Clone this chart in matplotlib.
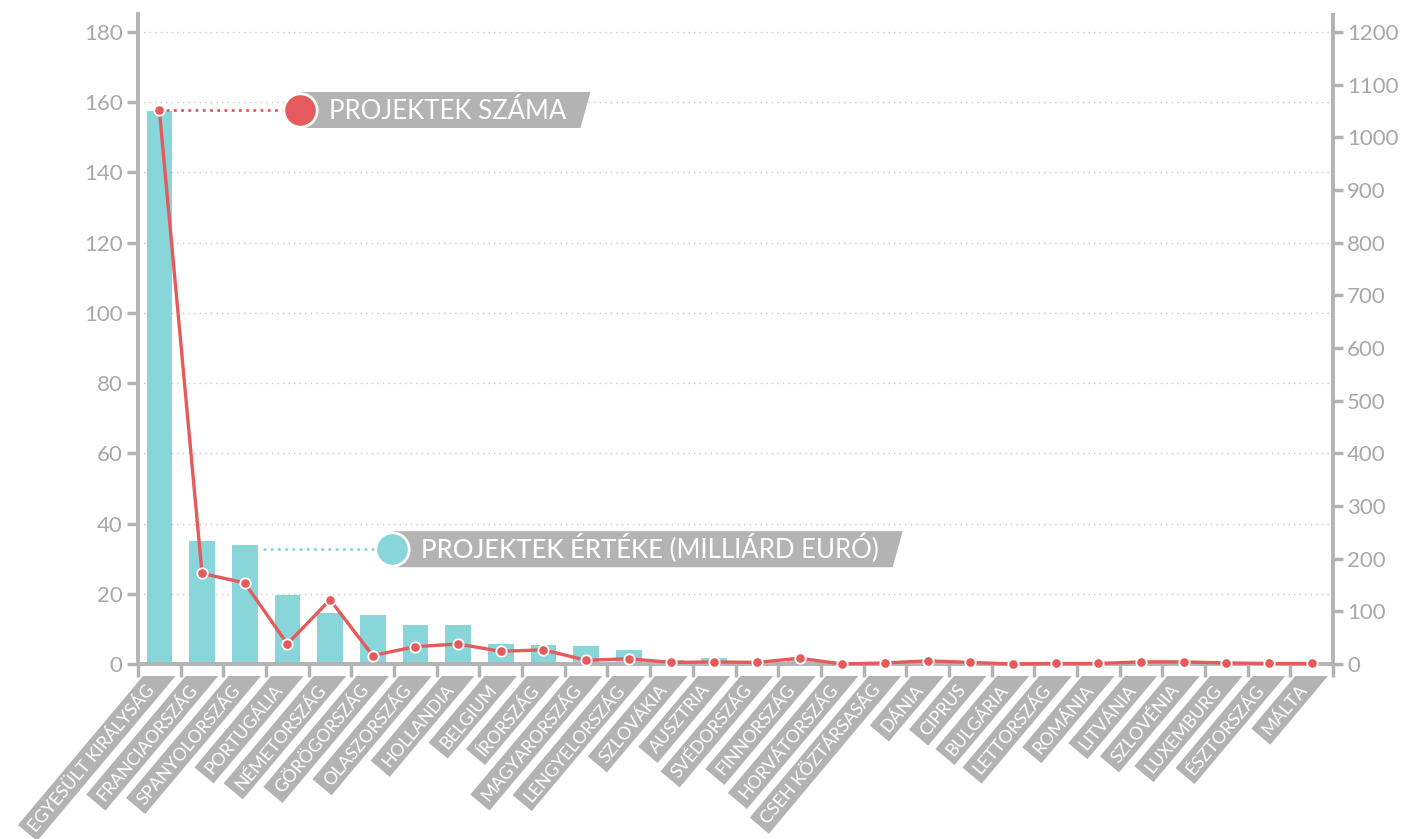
from __future__ import annotations

import numpy as np
import matplotlib

matplotlib.use("Agg")
import matplotlib.pyplot as plt
from matplotlib.font_manager import FontProperties
from matplotlib.patches import Polygon
from matplotlib.transforms import IdentityTransform

plt.rcParams["font.family"] = ["Lato", "DejaVu Sans"]

# Országok (vízszintes tengely)
countries = [
    "EGYESÜLT KIRÁLYSÁG", "FRANCIAORSZÁG", "SPANYOLORSZÁG", "PORTUGÁLIA",
    "NÉMETORSZÁG", "GÖRÖGORSZÁG", "OLASZORSZÁG", "HOLLANDIA", "BELGIUM",
    "ÍRORSZÁG", "MAGYARORSZÁG", "LENGYELORSZÁG", "SZLOVÁKIA", "AUSZTRIA",
    "SVÉDORSZÁG", "FINNORSZÁG", "HORVÁTORSZÁG", "CSEH KÖZTÁRSASÁG", "DÁNIA",
    "CIPRUS", "BULGÁRIA", "LETTORSZÁG", "ROMÁNIA", "LITVÁNIA", "SZLOVÉNIA",
    "LUXEMBURG", "ÉSZTORSZÁG", "MÁLTA",
]

# Projektek értéke (milliárd euró) - bal tengely
project_value = [
    157.5, 35.1, 33.9, 19.7, 14.5, 13.9, 11.2, 11.2, 5.8, 5.5, 5.2, 4.0,
    1.0, 1.6, 0.8, 1.2, 0.5, 0.4, 0.8, 0.6, 0.3, 0.2, 0.3, 0.4, 0.3, 0.3,
    0.1, 0.1,
]

# Projektek száma - jobb tengely
project_count = [
    1052, 172, 154, 38, 122, 16, 33, 38, 24, 27, 7, 10,
    3, 4, 3, 11, 0, 2, 6, 3, 0, 1, 1, 4, 4, 2, 1, 1,
]

left_ticks = list(range(0, 181, 20))
right_ticks = list(range(0, 1201, 100))

RED = "#e55a5a"
CYAN = "#88d5da"
GRAY = "#b3b3b3"
TICK_TEXT = "#a8a8a8"


def legend_tag(ax, fig, renderer, x, y, color, parts):
    """Kör + szürke, jobb oldalon ferde címke (a pont pixel-koordinátáiból)."""
    cx, cy = ax.transData.transform((x, y))
    ax.plot([x], [y], "o", ms=24, mfc=color, mec="white", mew=2,
            clip_on=False, zorder=7)

    size = 18.5
    cap = 0.72 * size * fig.dpi / 72
    tx = cx + 29
    for text, weight in parts:
        t = ax.text(tx, cy - cap / 2, text, color="white", fontsize=size,
                    fontweight=weight, ha="left", va="baseline",
                    transform=IdentityTransform(), zorder=8)
        tx = t.get_window_extent(renderer).x1

    half = 18
    box = Polygon(
        [(cx, cy + half), (tx + 24, cy + half),
         (tx + 14, cy - half), (cx, cy - half)],
        closed=True, facecolor=GRAY, edgecolor="none",
        transform=IdentityTransform(), zorder=6, clip_on=False,
    )
    ax.add_patch(box)


def main() -> None:
    x = np.arange(len(countries))

    fig = plt.figure(figsize=(14.23, 8.39), dpi=100)
    W, H = 1423, 839
    left, right, bottom, top = 138, 1333, 664, 14.5
    ax = fig.add_axes([left / W, (H - bottom) / H,
                       (right - left) / W, (bottom - top) / H])
    ax2 = ax.twinx()

    top_left = 185
    ax.set_xlim(-0.5, len(countries) - 0.5)
    ax.set_ylim(0, top_left)
    ax2.set_ylim(0, 1200 * top_left / 180)

    # Oszlopok: projektek értéke
    ax.bar(x, project_value, width=0.6, color=CYAN, zorder=2)

    # Vonal: projektek száma
    ax2.plot(x, project_count, color=RED, lw=2.4, marker="o", ms=7.5,
             mfc=RED, mec="white", mew=1.3, zorder=5, clip_on=False)

    # Tengelyek
    ax.set_yticks(left_ticks)
    ax2.set_yticks(right_ticks)
    ax.set_xticks(np.arange(-0.5, len(countries), 1.0))
    ax.set_xticklabels([])
    ax.tick_params(axis="y", direction="out", length=8, width=2.5,
                   color=GRAY, labelcolor=TICK_TEXT, labelsize=16, pad=3)
    ax2.tick_params(axis="y", direction="out", length=7, width=2.5,
                    color=GRAY, labelcolor=TICK_TEXT, labelsize=16, pad=3)
    ax.tick_params(axis="x", direction="out", length=9, width=2.5, color=GRAY)

    for name, spine in ax.spines.items():
        spine.set_color(GRAY)
        spine.set_linewidth(2.8)
    ax.spines["top"].set_visible(False)
    ax.spines["right"].set_visible(False)
    for name in ("top", "left", "bottom"):
        ax2.spines[name].set_visible(False)
    ax2.spines["right"].set_color(GRAY)
    ax2.spines["right"].set_linewidth(2.8)

    ax.set_axisbelow(True)
    ax.yaxis.grid(True, color="#c9c9c9", linestyle=(0, (1, 3)), lw=1)

    fig.canvas.draw()
    renderer = fig.canvas.get_renderer()

    # Ország-címkék ferde szürke sávokban
    angle = np.deg2rad(50)
    u = np.array([-np.cos(angle), -np.sin(angle)])
    n = np.array([np.sin(angle), -np.cos(angle)])
    half_t = 12.5
    label_size = 12.8
    prop = FontProperties(family=["Lato", "DejaVu Sans"], size=label_size)
    cap = 0.72 * label_size * fig.dpi / 72
    y0 = ax.transData.transform((0, 0))[1]
    ycut = y0 - 12
    for k, name in enumerate(countries):
        cx = ax.transData.transform((k, 0))[0]
        p0 = np.array([cx, ycut])
        w, _, _ = renderer.get_text_width_height_descent(name, prop, ismath=False)
        d0 = 13
        length = d0 + w + 6
        end = p0 + length * u
        band = Polygon(
            [(cx - half_t / np.sin(angle), ycut),
             (cx + half_t / np.sin(angle), ycut),
             tuple(end + half_t * n), tuple(end - half_t * n)],
            closed=True, facecolor=GRAY, edgecolor="none",
            transform=IdentityTransform(), clip_on=False, zorder=3,
        )
        ax.add_patch(band)
        anchor = p0 + d0 * u + (cap / 2) * n
        ax.text(anchor[0], anchor[1], name, fontproperties=prop, color="white",
                rotation=50, rotation_mode="anchor", ha="right", va="baseline",
                transform=IdentityTransform(), zorder=4)

    # Jelmagyarázat-címkék
    ax2.plot([0, 3.3], [project_count[0]] * 2, color=RED, lw=2,
             linestyle=(0, (1, 1.6)), zorder=4)
    legend_tag(ax2, fig, renderer, 3.3, project_count[0], RED,
               [("PROJEKTEK SZÁMA", "normal")])

    y_val = project_value[2] * 1200 / 180 - 8
    ax2.plot([2.42, 5.45], [y_val] * 2, color=CYAN, lw=2,
             linestyle=(0, (1, 1.6)), zorder=4)
    legend_tag(ax2, fig, renderer, 5.45, y_val, CYAN,
               [("PROJEKTEK ÉRTÉKE", "medium"), (" (MILLIÁRD EURÓ)", "normal")])

    fig.savefig("out.png", dpi=100)


if __name__ == "__main__":
    main()
